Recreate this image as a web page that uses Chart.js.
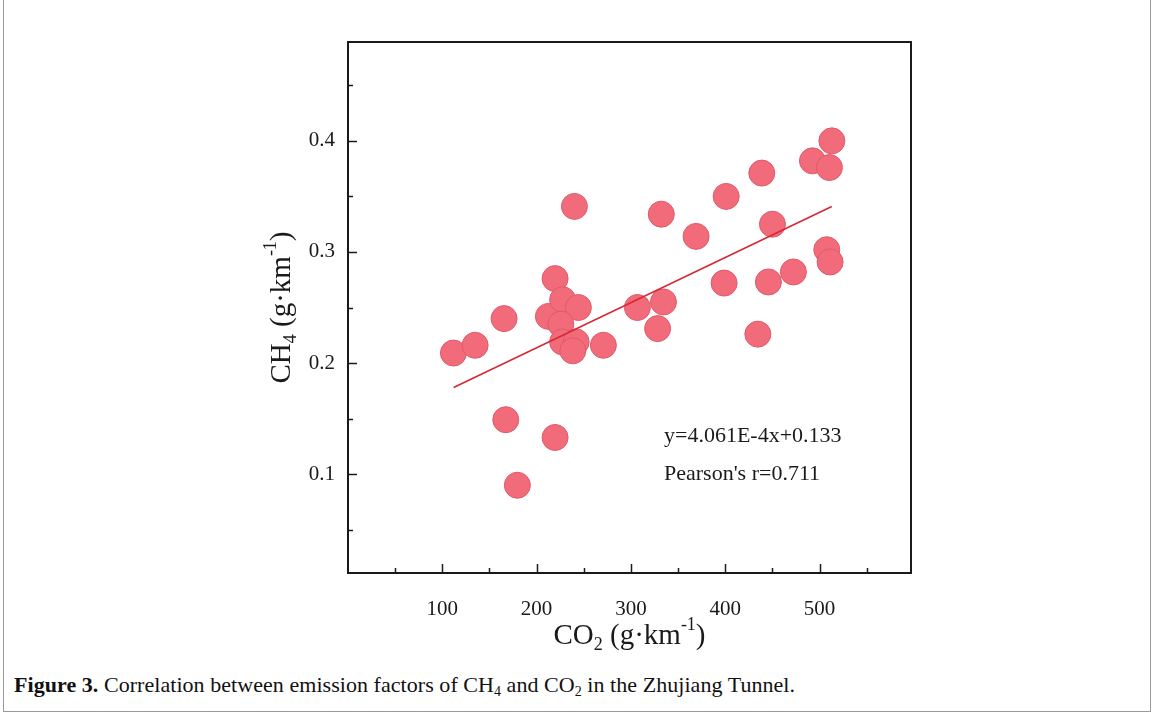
<!DOCTYPE html>
<html>
<head>
<meta charset="utf-8">
<title>Figure 3</title>
<script src="https://cdn.jsdelivr.net/npm/chart.js@4.4.1/dist/chart.umd.min.js"></script>
<style>
    html, body { margin: 0; padding: 0; background: #fff; }
    #frame { position: absolute; left: 3px; top: -2px; width: 1146px; height: 713px; border: 1px solid #9a9a9a; border-top: none; }
    #wrap { position: absolute; left: 0; top: 0; width: 1153px; height: 660px; }
    #caption { position: absolute; left: 14px; top: 672px; font-family: "Liberation Serif", serif; font-size: 22px; letter-spacing: 0.05px; color: #111; white-space: nowrap; }
    #caption sub { font-size: 14px; vertical-align: -4px; line-height: 0; }
</style>
</head>
<body>
<div id="frame"></div>
<div id="wrap"><canvas id="corrChart"></canvas></div>
<div id="caption"><b>Figure 3.</b> Correlation between emission factors of CH<sub>4</sub> and CO<sub>2</sub> in the Zhujiang Tunnel.</div>

<script>
// values (CO2 and CH4 emission factors, g/km)
const co2 = [111.8, 134.8, 165.5, 167.3, 179.6, 219.6, 219.6, 212.5, 227.6, 244.3, 225.7,
             227.6, 241.9, 238.4, 240.1, 270.8, 306.9, 328.3, 334.5, 332.2, 369.1, 401.0,
             398.8, 438.8, 434.6, 445.8, 450.1, 472.3, 492.5, 510.5, 513.1, 507.7, 511.2];
const ch4 = [0.209, 0.216, 0.240, 0.149, 0.090, 0.276, 0.133, 0.242, 0.257, 0.250, 0.235,
             0.219, 0.219, 0.211, 0.341, 0.216, 0.250, 0.231, 0.255, 0.334, 0.314, 0.350,
             0.272, 0.371, 0.226, 0.273, 0.325, 0.282, 0.382, 0.376, 0.400, 0.302, 0.291];

// fitted line end points
const fitX = [112, 513];
const fitY = [0.178, 0.341];

const xTickLabels = [100, 200, 300, 400, 500];
const yTickLabels = [0.1, 0.2, 0.3, 0.4];

const fitText = "y=4.061E-4x+0.133";
const pearsonText = "Pearson's r=0.711";

const SERIF = '"Liberation Serif", "Times New Roman", serif';
const INK = '#1a1a1a';

function isLabelled(list, v) {
    return list.some(t => Math.abs(t - v) < 1e-6);
}

// draws text runs with sub/superscripts, centred on (cx, cy)
function drawRich(ctx, parts, cx, cy, size) {
    const small = Math.round(size * 0.62);
    let total = 0;
    parts.forEach(p => {
        ctx.font = `${p.sub || p.sup ? small : size}px ${SERIF}`;
        p.w = ctx.measureText(p.t).width;
        total += p.w;
    });
    let x = cx - total / 2;
    ctx.textAlign = 'left';
    ctx.textBaseline = 'middle';
    parts.forEach(p => {
        ctx.font = `${p.sub || p.sup ? small : size}px ${SERIF}`;
        let dy = 0;
        if (p.sub) dy = size * 0.32;
        if (p.sup) dy = -size * 0.36;
        ctx.fillText(p.t, x, cy + dy);
        x += p.w;
    });
}

const framePlugin = {
    id: 'frame',
    afterDraw(chart) {
        const ctx = chart.ctx;
        const a = chart.chartArea;
        const xs = chart.scales.x;
        const ys = chart.scales.y;
        ctx.save();

        // inward tick marks
        ctx.strokeStyle = INK;
        ctx.lineWidth = 1.5;
        xs.ticks.forEach(t => {
            if (t.value <= 0) return;
            const px = Math.round(xs.getPixelForValue(t.value)) + 0.5;
            const len = isLabelled(xTickLabels, t.value) ? 9 : 5;
            ctx.beginPath();
            ctx.moveTo(px, a.bottom);
            ctx.lineTo(px, a.bottom - len);
            ctx.stroke();
        });
        ys.ticks.forEach(t => {
            const py = Math.round(ys.getPixelForValue(t.value)) + 0.5;
            const len = isLabelled(yTickLabels, t.value) ? 9 : 5;
            ctx.beginPath();
            ctx.moveTo(a.left, py);
            ctx.lineTo(a.left + len, py);
            ctx.stroke();
        });

        // box
        ctx.lineWidth = 2;
        ctx.strokeRect(a.left, a.top, a.right - a.left, a.bottom - a.top);

        // axis titles
        ctx.fillStyle = INK;
        drawRich(ctx, [{ t: 'CO' }, { t: '2', sub: true }, { t: ' (g\u00b7km' }, { t: '-1', sup: true }, { t: ')' }],
            (a.left + a.right) / 2, 636, 29);
        ctx.save();
        ctx.translate(282, (a.top + a.bottom) / 2);
        ctx.rotate(-Math.PI / 2);
        drawRich(ctx, [{ t: 'CH' }, { t: '4', sub: true }, { t: ' (g\u00b7km' }, { t: '-1', sup: true }, { t: ')' }],
            0, 0, 29);
        ctx.restore();

        // fit annotation
        ctx.font = `22px ${SERIF}`;
        ctx.textAlign = 'left';
        ctx.textBaseline = 'middle';
        ctx.fillText(fitText, 664, 436);
        ctx.fillText(pearsonText, 664, 474);

        ctx.restore();
    }
};

const points = co2.map((x, i) => ({ x, y: ch4[i] }));
const fitLine = fitX.map((x, i) => ({ x, y: fitY[i] }));

new Chart(document.getElementById('corrChart'), {
    type: 'scatter',
    data: {
        datasets: [
            {
                type: 'line',
                data: fitLine,
                borderColor: '#d42a33',
                borderWidth: 1.6,
                pointRadius: 0,
                fill: false,
                order: 0
            },
            {
                data: points,
                backgroundColor: '#f26b7a',
                borderColor: '#e0596a',
                borderWidth: 1,
                pointRadius: 13,
                order: 1
            }
        ]
    },
    options: {
        responsive: true,
        maintainAspectRatio: false,
        animation: false,
        layout: { padding: { left: 0, top: 42, right: 242, bottom: 0 } },
        plugins: {
            legend: { display: false },
            tooltip: { enabled: false }
        },
        scales: {
            x: {
                type: 'linear',
                min: 0,
                max: 597,
                grid: { display: false, drawTicks: false },
                border: { display: false },
                afterFit: s => { s.height = 87; },
                ticks: {
                    stepSize: 50,
                    includeBounds: false,
                    autoSkip: false,
                    maxRotation: 0,
                    padding: 24,
                    color: INK,
                    font: { family: SERIF, size: 21 },
                    callback: v => isLabelled(xTickLabels, v) ? String(v) : ''
                }
            },
            y: {
                type: 'linear',
                min: 0.011,
                max: 0.489,
                grid: { display: false, drawTicks: false },
                border: { display: false },
                afterFit: s => { s.width = 348; },
                ticks: {
                    stepSize: 0.05,
                    includeBounds: false,
                    autoSkip: false,
                    padding: 13,
                    color: INK,
                    font: { family: SERIF, size: 21 },
                    callback: v => isLabelled(yTickLabels, v) ? v.toFixed(1) : ''
                }
            }
        }
    },
    plugins: [framePlugin]
});
</script>
</body>
</html>
